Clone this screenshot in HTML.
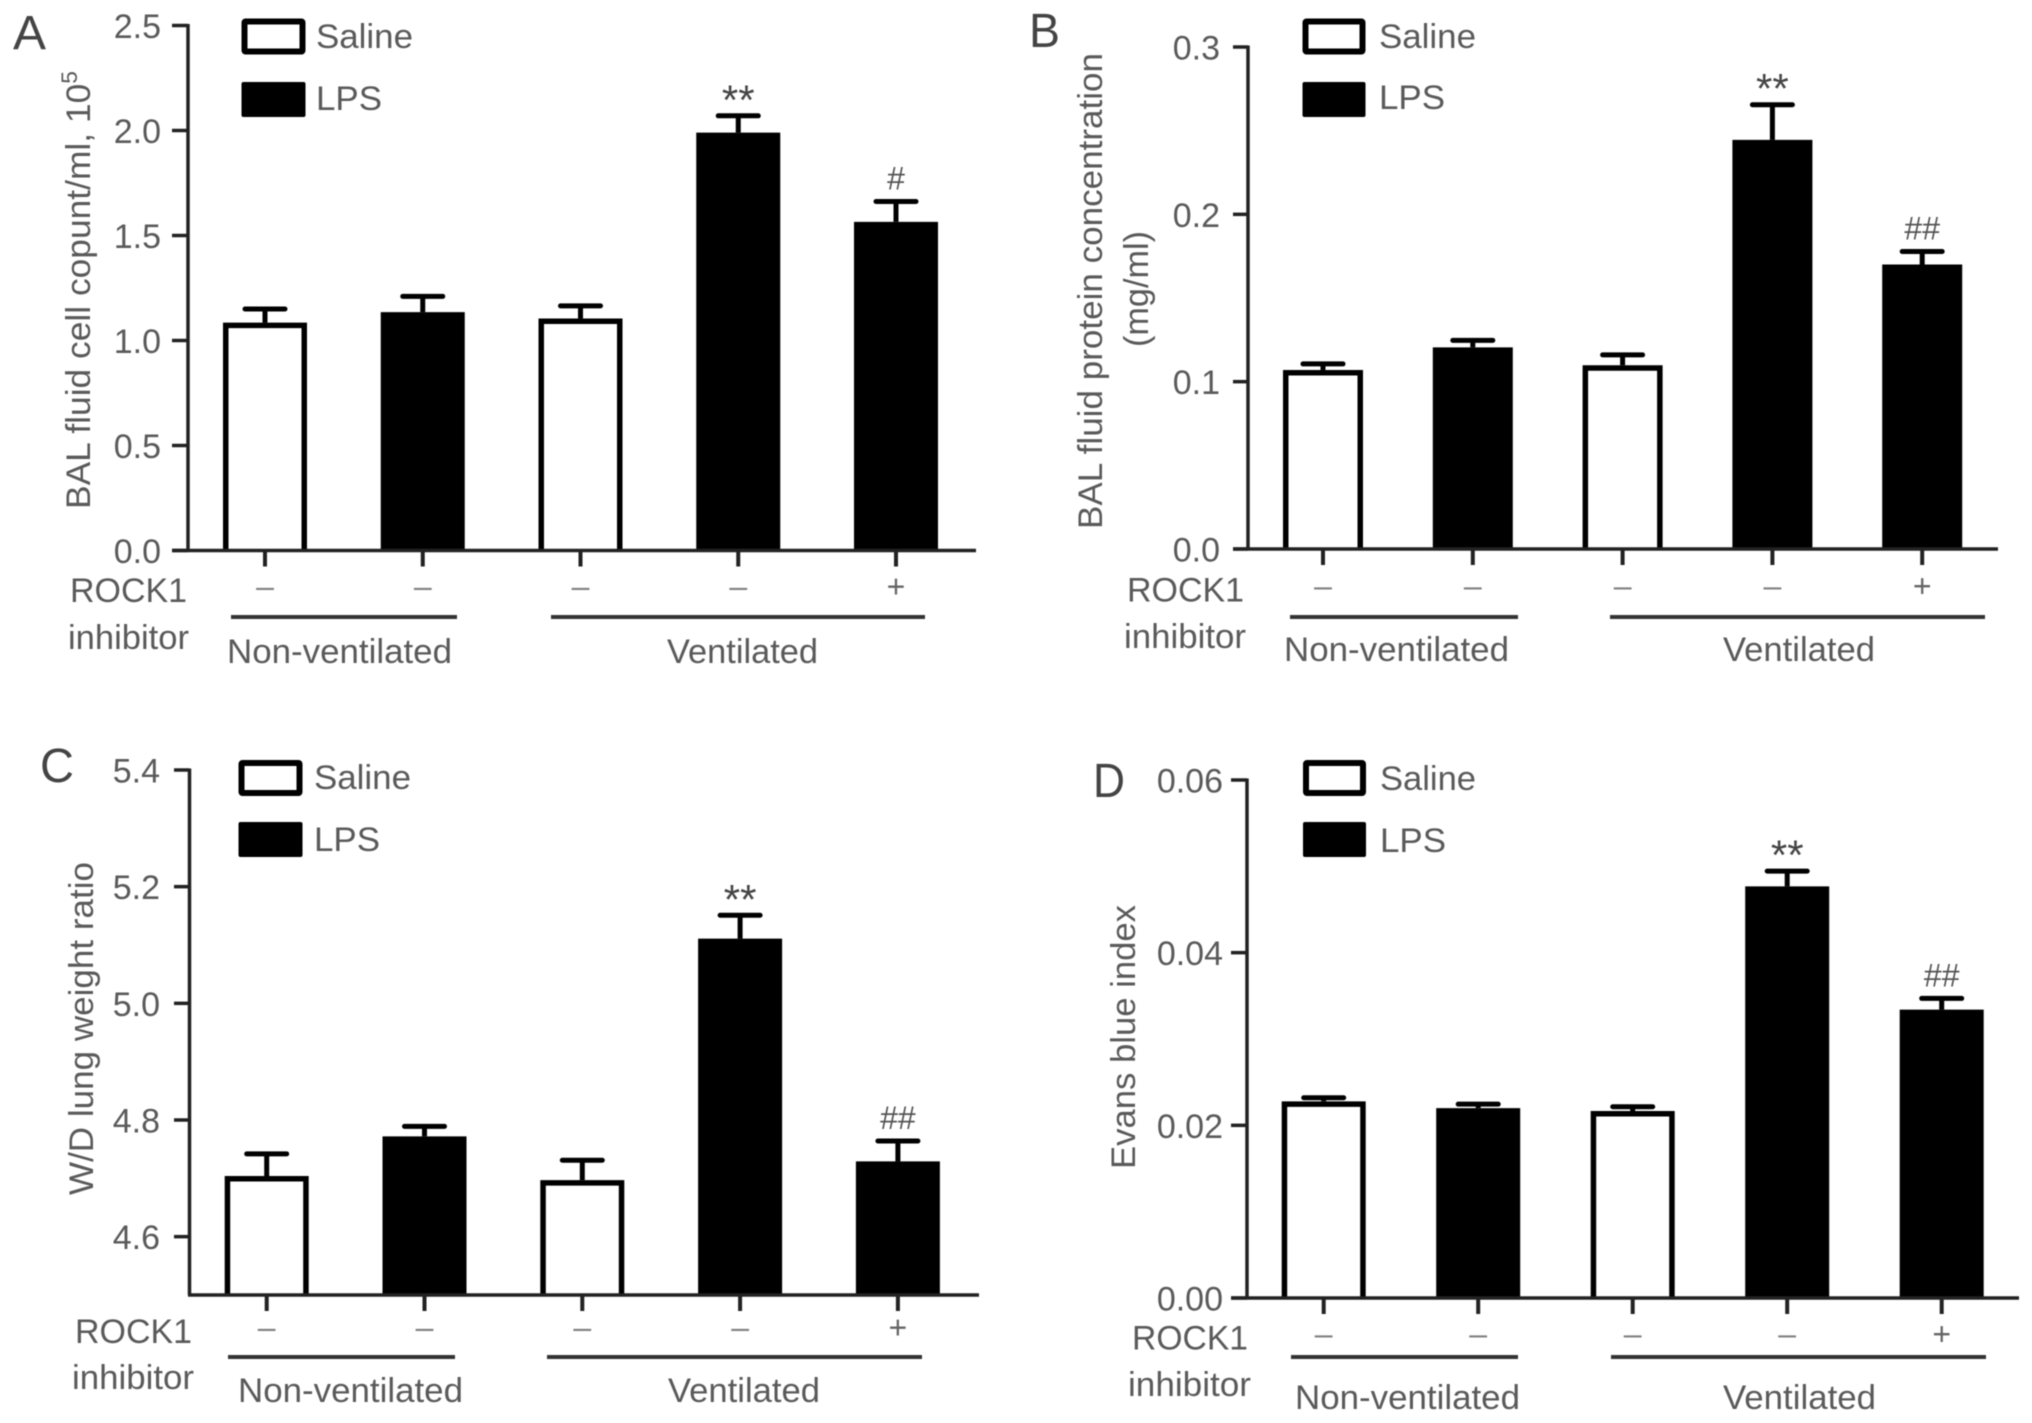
<!DOCTYPE html>
<html lang="en">
<head>
<meta charset="utf-8">
<title>ROCK1 inhibitor bar charts</title>
<style>
  html, body { margin: 0; padding: 0; background: #fff; }
  svg { display: block; filter: blur(0.5px); }
  text { font-family: "Liberation Sans", sans-serif; fill: #5a5a5a; font-size: 34px; }
  .letter { font-size: 48px; fill: #444; }
  .rule { stroke: #333; stroke-width: 4; }
</style>
</head>
<body>
<svg id="fig" width="2032" height="1423" viewBox="0 0 2032 1423" xmlns="http://www.w3.org/2000/svg">
  <rect width="2032" height="1423" fill="#fff"/>

  <!-- Panel A -->
  <g id="panel-a">
    <text class="letter" x="13" y="49" textLength="33" lengthAdjust="spacingAndGlyphs">A</text>
    <text transform="translate(90,509) rotate(-90)" textLength="438" lengthAdjust="spacingAndGlyphs">BAL fluid cell copunt/ml, 10<tspan font-size="22" dy="-13">5</tspan></text>
    <rect x="244.5" y="21.5" width="58" height="30" fill="#fff" stroke="#000" stroke-width="6" rx="1"/>
    <rect x="241.5" y="82" width="64" height="35" fill="#000" rx="2"/>
    <text x="316" y="48" textLength="97" lengthAdjust="spacingAndGlyphs">Saline</text>
    <text x="316" y="110" textLength="66" lengthAdjust="spacingAndGlyphs">LPS</text>
    <text x="70" y="602" textLength="117" lengthAdjust="spacingAndGlyphs">ROCK1</text>
    <text x="68" y="649" textLength="121" lengthAdjust="spacingAndGlyphs">inhibitor</text>
    <line class="rule" x1="231" y1="617" x2="457" y2="617"/>
    <line class="rule" x1="551" y1="617" x2="925" y2="617"/>
    <text x="227" y="663" textLength="225" lengthAdjust="spacingAndGlyphs">Non-ventilated</text>
    <text x="667" y="663" textLength="151" lengthAdjust="spacingAndGlyphs">Ventilated</text>
  </g>

  <!-- Panel B -->
  <g id="panel-b">
    <text class="letter" x="1029" y="47" textLength="31" lengthAdjust="spacingAndGlyphs">B</text>
    <text transform="translate(1102,529) rotate(-90)" textLength="476" lengthAdjust="spacingAndGlyphs">BAL fluid protein concentration</text>
    <text transform="translate(1148,347) rotate(-90)" textLength="116" lengthAdjust="spacingAndGlyphs">(mg/ml)</text>
    <rect x="1305.5" y="21.5" width="57" height="30" fill="#fff" stroke="#000" stroke-width="6" rx="1"/>
    <rect x="1302.5" y="82" width="63" height="35" fill="#000" rx="2"/>
    <text x="1379" y="48" textLength="97" lengthAdjust="spacingAndGlyphs">Saline</text>
    <text x="1379" y="109" textLength="66" lengthAdjust="spacingAndGlyphs">LPS</text>
    <text x="1127" y="601.5" textLength="117" lengthAdjust="spacingAndGlyphs">ROCK1</text>
    <text x="1124" y="648" textLength="122" lengthAdjust="spacingAndGlyphs">inhibitor</text>
    <line class="rule" x1="1290" y1="617" x2="1518" y2="617"/>
    <line class="rule" x1="1610" y1="617" x2="1985" y2="617"/>
    <text x="1284" y="661" textLength="225" lengthAdjust="spacingAndGlyphs">Non-ventilated</text>
    <text x="1723" y="661" textLength="152" lengthAdjust="spacingAndGlyphs">Ventilated</text>
  </g>

  <!-- Panel C -->
  <g id="panel-c">
    <text class="letter" x="40" y="782" textLength="34" lengthAdjust="spacingAndGlyphs">C</text>
    <text transform="translate(93,1195) rotate(-90)" textLength="333" lengthAdjust="spacingAndGlyphs">W/D lung weight ratio</text>
    <rect x="241.5" y="763" width="58" height="30" fill="#fff" stroke="#000" stroke-width="6" rx="1"/>
    <rect x="238.5" y="822" width="64" height="35" fill="#000" rx="2"/>
    <text x="314" y="789" textLength="97" lengthAdjust="spacingAndGlyphs">Saline</text>
    <text x="314" y="851" textLength="66" lengthAdjust="spacingAndGlyphs">LPS</text>
    <text x="75" y="1343" textLength="117" lengthAdjust="spacingAndGlyphs">ROCK1</text>
    <text x="72" y="1389" textLength="122" lengthAdjust="spacingAndGlyphs">inhibitor</text>
    <line class="rule" x1="228" y1="1357" x2="455" y2="1357"/>
    <line class="rule" x1="547" y1="1357" x2="922" y2="1357"/>
    <text x="238" y="1402" textLength="225" lengthAdjust="spacingAndGlyphs">Non-ventilated</text>
    <text x="668" y="1402" textLength="152" lengthAdjust="spacingAndGlyphs">Ventilated</text>
  </g>

  <!-- Panel D -->
  <g id="panel-d">
    <text class="letter" x="1093" y="797" textLength="32" lengthAdjust="spacingAndGlyphs">D</text>
    <text transform="translate(1135,1169) rotate(-90)" textLength="264" lengthAdjust="spacingAndGlyphs">Evans blue index</text>
    <rect x="1306" y="763" width="57" height="30" fill="#fff" stroke="#000" stroke-width="6" rx="1"/>
    <rect x="1303" y="822" width="63" height="35" fill="#000" rx="2"/>
    <text x="1380" y="790" textLength="96" lengthAdjust="spacingAndGlyphs">Saline</text>
    <text x="1380" y="852" textLength="66" lengthAdjust="spacingAndGlyphs">LPS</text>
    <text x="1132" y="1349.5" textLength="116" lengthAdjust="spacingAndGlyphs">ROCK1</text>
    <text x="1128" y="1396" textLength="123" lengthAdjust="spacingAndGlyphs">inhibitor</text>
    <line class="rule" x1="1291" y1="1357" x2="1518" y2="1357"/>
    <line class="rule" x1="1611" y1="1357" x2="1986" y2="1357"/>
    <text x="1295" y="1409" textLength="225" lengthAdjust="spacingAndGlyphs">Non-ventilated</text>
    <text x="1723" y="1409" textLength="153" lengthAdjust="spacingAndGlyphs">Ventilated</text>
  </g>
</svg>

<script>
// ---- Data ----
const barGroups = ['saline', 'lps', 'saline', 'lps', 'lps'];
const inhibitorSigns = ['–', '–', '–', '–', '+'];

const panelAValues = [1.085, 1.135, 1.105, 1.99, 1.565];
const panelAErrorTops = [1.15, 1.21, 1.165, 2.07, 1.662];
const panelATickValues = [0.0, 0.5, 1.0, 1.5, 2.0, 2.5];
const panelATickLabels = ['0.0', '0.5', '1.0', '1.5', '2.0', '2.5'];
const panelAMarkers = ['', '', '', '**', '#'];

const panelBValues = [0.107, 0.1205, 0.1098, 0.2445, 0.17];
const panelBErrorTops = [0.1106, 0.1247, 0.116, 0.2655, 0.1778];
const panelBTickValues = [0.0, 0.1, 0.2, 0.3];
const panelBTickLabels = ['0.0', '0.1', '0.2', '0.3'];
const panelBMarkers = ['', '', '', '**', '##'];

const panelCValues = [4.704, 4.772, 4.697, 5.111, 4.729];
const panelCErrorTops = [4.742, 4.789, 4.731, 5.151, 4.764];
const panelCTickValues = [4.6, 4.8, 5.0, 5.2, 5.4];
const panelCTickLabels = ['4.6', '4.8', '5.0', '5.2', '5.4'];
const panelCMarkers = ['', '', '', '**', '##'];

const panelDValues = [0.02278, 0.0220, 0.02166, 0.04768, 0.0334];
const panelDErrorTops = [0.0232, 0.02245, 0.02215, 0.04945, 0.0347];
const panelDTickValues = [0.00, 0.02, 0.04, 0.06];
const panelDTickLabels = ['0.00', '0.02', '0.04', '0.06'];
const panelDMarkers = ['', '', '', '**', '##'];

// ---- Drawing ----
const SVG_NS = 'http://www.w3.org/2000/svg';

function make(parent, tag, attrs, content) {
  const el = document.createElementNS(SVG_NS, tag);
  for (const k in attrs) el.setAttribute(k, attrs[k]);
  if (content !== undefined) el.textContent = content;
  parent.appendChild(el);
  return el;
}

function drawPanel(panelId, frame, values, errorTops, tickValues, tickLabels, markers) {
  const root = document.getElementById(panelId);

  // axis functions
  const yScale = v => frame.yBase - (v - frame.domainMin) / (frame.domainMax - frame.domainMin) * (frame.yBase - frame.yTop);
  const xScale = i => frame.xFirst + i * frame.xStep;

  values.forEach((v, i) => {
    const cx = xScale(i);
    const top = yScale(v);
    const errY = yScale(errorTops[i]);

    const stem = make(root, 'line', { x1: cx, y1: top, x2: cx, y2: errY, stroke: '#000', 'stroke-width': 5 });
    
    

    const cap = make(root, 'line', { x1: cx - frame.capHalf, y1: errY, x2: cx + frame.capHalf, y2: errY, stroke: '#000', 'stroke-width': 5, 'stroke-linecap': 'round' });
    
    

    const isSaline = barGroups[i] === 'saline';
    const inset = isSaline ? 2.75 : 0;
    const left = cx - frame.barWidth / 2 + inset;
    const right = cx + frame.barWidth / 2 - inset;
    const bar = make(root, 'path', {
      d: 'M' + left + ' ' + frame.yBase + ' V' + (top + inset) + ' H' + right + ' V' + frame.yBase,
      fill: isSaline ? '#fff' : '#000',
      stroke: isSaline ? '#000' : 'none',
      'stroke-width': isSaline ? 5.5 : 0
    });
    
    

    const tick = make(root, 'line', { x1: cx, y1: frame.yBase, x2: cx, y2: frame.yBase + 16, stroke: '#222', 'stroke-width': 4 });
    
    

    const sign = inhibitorSigns[i];
    const signText = make(root, 'text', {
      x: cx, y: frame.signY + (sign === '+' ? 10 : 9.5),
      'text-anchor': 'middle',
      style: sign === '+' ? 'font-size:32px;fill:#666' : 'font-size:32px;fill:#808080'
    }, sign);
    
    

    if (markers[i]) {
      const star = markers[i].charAt(0) === '*';
      const marker = make(root, 'text', {
        x: cx, y: errY + (star ? -1.5 : -12),
        'text-anchor': 'middle',
        style: star ? 'font-size:42px;fill:#444' : 'font-size:32px;fill:#555'
      }, markers[i]);
      
      
    }
  });

  const yAxis = make(root, 'line', { x1: frame.xAxis, y1: yScale(tickValues[tickValues.length - 1]) - 1.5, x2: frame.xAxis, y2: frame.yBase, stroke: '#222', 'stroke-width': 3.5 });
  
  

  const xAxis = make(root, 'line', { x1: frame.xAxisStart, y1: frame.yBase, x2: frame.xEnd, y2: frame.yBase, stroke: '#222', 'stroke-width': 3.5 });
  
  

  tickValues.forEach((t, i) => {
    const y = yScale(t);
    const tick = make(root, 'line', { x1: frame.xTickStart, y1: y, x2: frame.xAxis, y2: y, stroke: '#222', 'stroke-width': 3.5 });
    
    

    const label = make(root, 'text', { x: frame.xLabelEnd, y: y + 12.5, 'text-anchor': 'end' }, tickLabels[i]);
    
    
  });
}

drawPanel('panel-a',
  { yBase: 550.5, yTop: 25.5, domainMin: 0, domainMax: 2.5, xFirst: 265, xStep: 157.75, barWidth: 84, capHalf: 20, signY: 587.5, xAxis: 188, xAxisStart: 172, xEnd: 976, xTickStart: 172, xLabelEnd: 161 },
  panelAValues, panelAErrorTops, panelATickValues, panelATickLabels, panelAMarkers);

drawPanel('panel-b',
  { yBase: 549, yTop: 47, domainMin: 0, domainMax: 0.3, xFirst: 1323, xStep: 149.8, barWidth: 80, capHalf: 20, signY: 587, xAxis: 1248, xAxisStart: 1233, xEnd: 1998, xTickStart: 1233, xLabelEnd: 1220 },
  panelBValues, panelBErrorTops, panelBTickValues, panelBTickLabels, panelBMarkers);

drawPanel('panel-c',
  { yBase: 1295, yTop: 770, domainMin: 4.5, domainMax: 5.4, xFirst: 266.7, xStep: 157.8, barWidth: 84, capHalf: 20, signY: 1328.5, xAxis: 189.5, xAxisStart: 188, xEnd: 979, xTickStart: 174, xLabelEnd: 160 },
  panelCValues, panelCErrorTops, panelCTickValues, panelCTickLabels, panelCMarkers);

drawPanel('panel-d',
  { yBase: 1298, yTop: 780, domainMin: 0, domainMax: 0.06, xFirst: 1323.7, xStep: 154.5, barWidth: 84, capHalf: 20, signY: 1335, xAxis: 1247, xAxisStart: 1231, xEnd: 2019, xTickStart: 1231, xLabelEnd: 1223 },
  panelDValues, panelDErrorTops, panelDTickValues, panelDTickLabels, panelDMarkers);
</script>
</body>
</html>
